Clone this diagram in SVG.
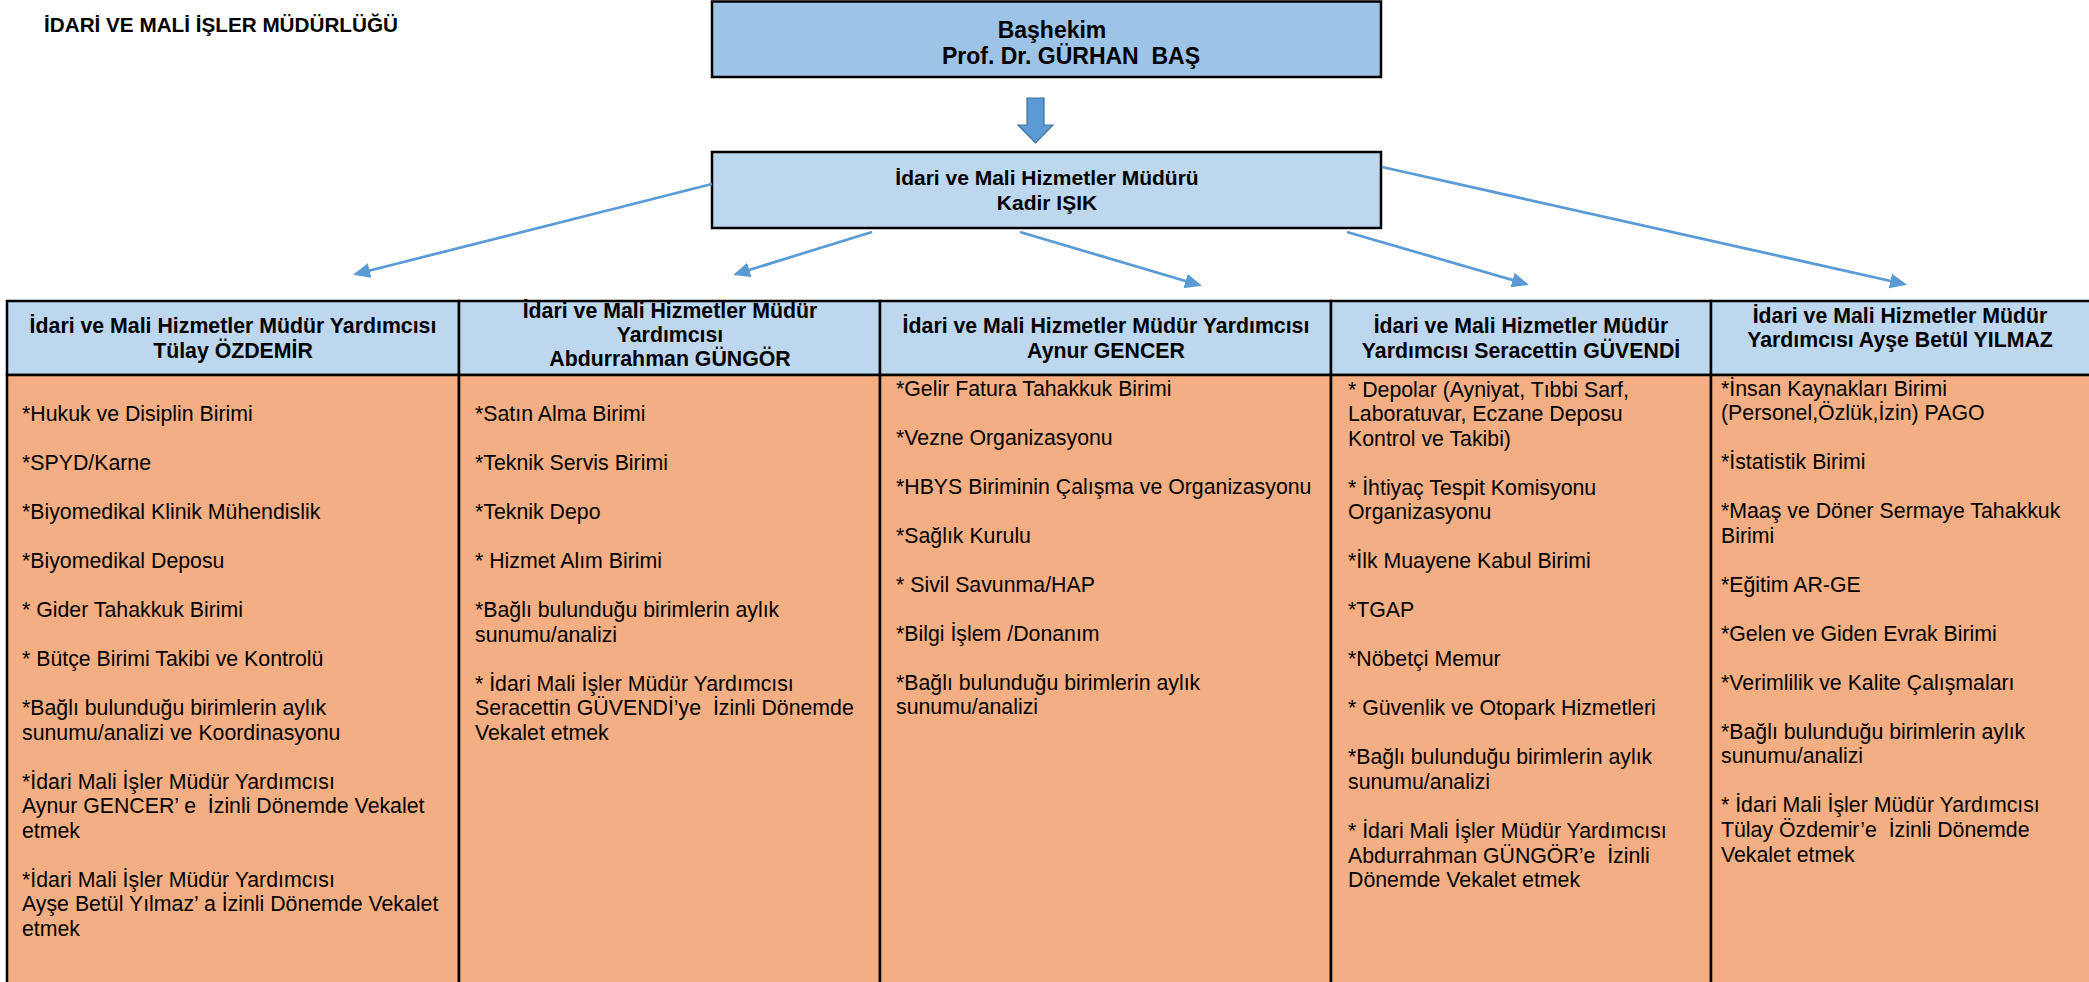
<svg xmlns="http://www.w3.org/2000/svg" width="2089" height="982" viewBox="0 0 2089 982">
<defs>
<style>
.t{font-family:"Liberation Sans",Arial,sans-serif;fill:#000;white-space:pre}
.b{font-weight:bold}
.body{font-size:21.3px}
.hdr{font-size:21.3px;font-weight:bold;text-anchor:middle}
.box{stroke:#000;stroke-width:2.5}
.hd{fill:#BDD7EE;stroke:#000;stroke-width:2.5}
.bd{fill:#F3AF83;stroke:#000;stroke-width:2.5}
.cn{stroke:#5B9BD5;stroke-width:2.75;fill:none;marker-end:url(#ah)}
</style>
<marker id="ah" markerUnits="userSpaceOnUse" markerWidth="20" markerHeight="16" refX="14" refY="7.5" orient="auto">
<path d="M0,0 L17,7.5 L0,15 z" fill="#5B9BD5"/>
</marker>
</defs>
<rect width="2089" height="982" fill="#fff"/>

<g id="title">
<text class="t b" x="44" y="32" font-size="20.7">İDARİ VE MALİ İŞLER MÜDÜRLÜĞÜ</text>
</g>

<g id="bashekim">
<rect class="box" x="712" y="1.5" width="669" height="75.5" fill="#9DC3E6"/>
<text class="t b" x="1052" y="38" font-size="23" text-anchor="middle">Başhekim</text>
<text class="t b" x="1071" y="64" font-size="23" text-anchor="middle">Prof. Dr. GÜRHAN  BAŞ</text>
</g>

<g id="mudur">
<rect class="box" x="712" y="152" width="669" height="76" fill="#BDD7EE"/>
<text class="t b" x="1047" y="185" font-size="21" text-anchor="middle">İdari ve Mali Hizmetler Müdürü</text>
<text class="t b" x="1047" y="210" font-size="21" text-anchor="middle">Kadir IŞIK</text>
</g>

<g id="connectors">
<polygon points="1027,98 1044,98 1044,125 1053,125 1035.5,143 1018,125 1027,125" fill="#5B9BD5" stroke="#41719C" stroke-width="1.2"/>
<line class="cn" x1="712" y1="184" x2="356" y2="274"/>
<line class="cn" x1="872" y1="232" x2="736" y2="274"/>
<line class="cn" x1="1020" y1="232" x2="1199" y2="285"/>
<line class="cn" x1="1347" y1="232" x2="1526" y2="284"/>
<line class="cn" x1="1382" y1="167" x2="1904" y2="284"/>
</g>

<g id="col1">
<rect class="hd" x="7" y="301" width="452" height="74"/>
<rect class="bd" x="7" y="375" width="452" height="620"/>
<text class="t hdr" x="233" y="333">İdari ve Mali Hizmetler Müdür Yardımcısı</text>
<text class="t hdr" x="233" y="358">Tülay ÖZDEMİR</text>
<text class="t body" x="22" y="421">*Hukuk ve Disiplin Birimi</text>
<text class="t body" x="22" y="470">*SPYD/Karne</text>
<text class="t body" x="22" y="519">*Biyomedikal Klinik Mühendislik</text>
<text class="t body" x="22" y="568">*Biyomedikal Deposu</text>
<text class="t body" x="22" y="617">* Gider Tahakkuk Birimi</text>
<text class="t body" x="22" y="666">* Bütçe Birimi Takibi ve Kontrolü</text>
<text class="t body" x="22" y="715">*Bağlı bulunduğu birimlerin aylık</text>
<text class="t body" x="22" y="739.6">sunumu/analizi ve Koordinasyonu</text>
<text class="t body" x="22" y="788.6">*İdari Mali İşler Müdür Yardımcısı</text>
<text class="t body" x="22" y="813.2">Aynur GENCER’ e  İzinli Dönemde Vekalet</text>
<text class="t body" x="22" y="837.8">etmek</text>
<text class="t body" x="22" y="886.8">*İdari Mali İşler Müdür Yardımcısı</text>
<text class="t body" x="22" y="911.4">Ayşe Betül Yılmaz’ a İzinli Dönemde Vekalet</text>
<text class="t body" x="22" y="936">etmek</text>
</g>

<g id="col2">
<rect class="hd" x="459" y="301" width="421" height="74"/>
<rect class="bd" x="459" y="375" width="421" height="620"/>
<text class="t hdr" x="670" y="318">İdari ve Mali Hizmetler Müdür</text>
<text class="t hdr" x="670" y="342">Yardımcısı</text>
<text class="t hdr" x="670" y="366">Abdurrahman GÜNGÖR</text>
<text class="t body" x="475" y="421">*Satın Alma Birimi</text>
<text class="t body" x="475" y="470">*Teknik Servis Birimi</text>
<text class="t body" x="475" y="519">*Teknik Depo</text>
<text class="t body" x="475" y="568">* Hizmet Alım Birimi</text>
<text class="t body" x="475" y="617">*Bağlı bulunduğu birimlerin aylık</text>
<text class="t body" x="475" y="641.6">sunumu/analizi</text>
<text class="t body" x="475" y="690.6">* İdari Mali İşler Müdür Yardımcısı</text>
<text class="t body" x="475" y="715.2">Seracettin GÜVENDİ’ye  İzinli Dönemde</text>
<text class="t body" x="475" y="739.8">Vekalet etmek</text>
</g>

<g id="col3">
<rect class="hd" x="880" y="301" width="451" height="74"/>
<rect class="bd" x="880" y="375" width="451" height="620"/>
<text class="t hdr" x="1106" y="333">İdari ve Mali Hizmetler Müdür Yardımcısı</text>
<text class="t hdr" x="1106" y="358">Aynur GENCER</text>
<text class="t body" x="896" y="395.5">*Gelir Fatura Tahakkuk Birimi</text>
<text class="t body" x="896" y="444.5">*Vezne Organizasyonu</text>
<text class="t body" x="896" y="493.5">*HBYS Biriminin Çalışma ve Organizasyonu</text>
<text class="t body" x="896" y="542.5">*Sağlık Kurulu</text>
<text class="t body" x="896" y="591.5">* Sivil Savunma/HAP</text>
<text class="t body" x="896" y="640.5">*Bilgi İşlem /Donanım</text>
<text class="t body" x="896" y="689.5">*Bağlı bulunduğu birimlerin aylık</text>
<text class="t body" x="896" y="714.1">sunumu/analizi</text>
</g>

<g id="col4">
<rect class="hd" x="1331" y="301" width="380" height="74"/>
<rect class="bd" x="1331" y="375" width="380" height="620"/>
<text class="t hdr" x="1521" y="333">İdari ve Mali Hizmetler Müdür</text>
<text class="t hdr" x="1521" y="358">Yardımcısı Seracettin GÜVENDİ</text>
<text class="t body" x="1348" y="396.5">* Depolar (Ayniyat, Tıbbi Sarf,</text>
<text class="t body" x="1348" y="421.1">Laboratuvar, Eczane Deposu</text>
<text class="t body" x="1348" y="445.7">Kontrol ve Takibi)</text>
<text class="t body" x="1348" y="494.7">* İhtiyaç Tespit Komisyonu</text>
<text class="t body" x="1348" y="519.3">Organizasyonu</text>
<text class="t body" x="1348" y="568.3">*İlk Muayene Kabul Birimi</text>
<text class="t body" x="1348" y="617.3">*TGAP</text>
<text class="t body" x="1348" y="666.3">*Nöbetçi Memur</text>
<text class="t body" x="1348" y="715.3">* Güvenlik ve Otopark Hizmetleri</text>
<text class="t body" x="1348" y="764.3">*Bağlı bulunduğu birimlerin aylık</text>
<text class="t body" x="1348" y="788.9">sunumu/analizi</text>
<text class="t body" x="1348" y="837.9">* İdari Mali İşler Müdür Yardımcısı</text>
<text class="t body" x="1348" y="862.5">Abdurrahman GÜNGÖR’e  İzinli</text>
<text class="t body" x="1348" y="887.1">Dönemde Vekalet etmek</text>
</g>

<g id="col5">
<rect class="hd" x="1711" y="301" width="400" height="74"/>
<rect class="bd" x="1711" y="375" width="400" height="620"/>
<text class="t hdr" x="1900" y="323">İdari ve Mali Hizmetler Müdür</text>
<text class="t hdr" x="1900" y="347">Yardımcısı Ayşe Betül YILMAZ</text>
<text class="t body" x="1721" y="395.5">*İnsan Kaynakları Birimi</text>
<text class="t body" x="1721" y="420.1">(Personel,Özlük,İzin) PAGO</text>
<text class="t body" x="1721" y="469.1">*İstatistik Birimi</text>
<text class="t body" x="1721" y="518.1">*Maaş ve Döner Sermaye Tahakkuk</text>
<text class="t body" x="1721" y="542.7">Birimi</text>
<text class="t body" x="1721" y="591.7">*Eğitim AR-GE</text>
<text class="t body" x="1721" y="640.7">*Gelen ve Giden Evrak Birimi</text>
<text class="t body" x="1721" y="689.7">*Verimlilik ve Kalite Çalışmaları</text>
<text class="t body" x="1721" y="738.7">*Bağlı bulunduğu birimlerin aylık</text>
<text class="t body" x="1721" y="763.3">sunumu/analizi</text>
<text class="t body" x="1721" y="812.3">* İdari Mali İşler Müdür Yardımcısı</text>
<text class="t body" x="1721" y="836.9">Tülay Özdemir’e  İzinli Dönemde</text>
<text class="t body" x="1721" y="861.5">Vekalet etmek</text>
</g>
</svg>
